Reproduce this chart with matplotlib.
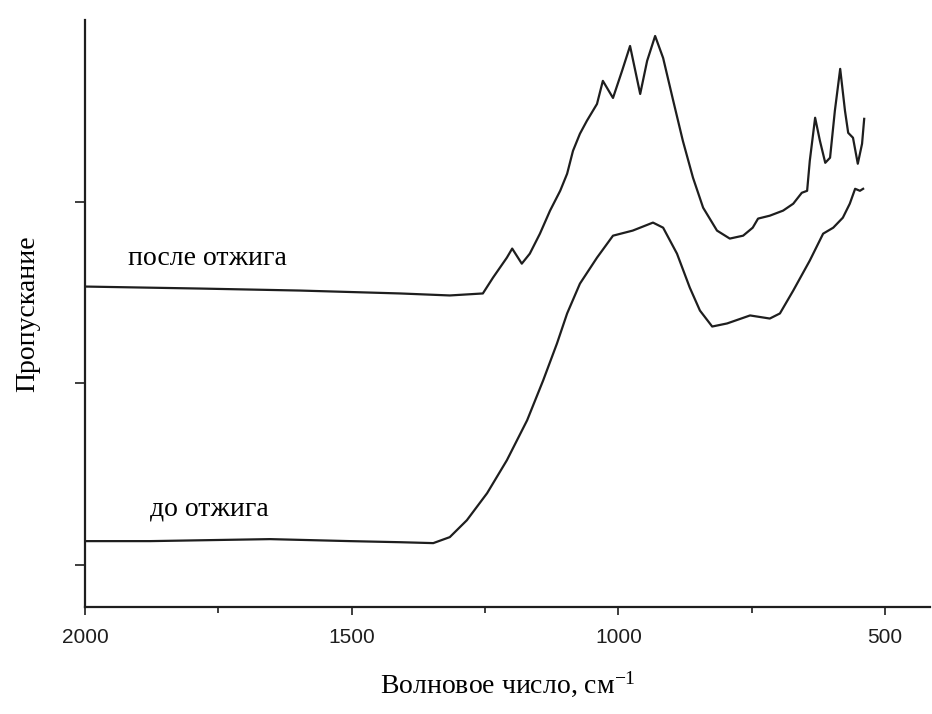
import numpy as np
import matplotlib.pyplot as plt

# ИК-спектры пропускания до и после отжига

# после отжига
wn_after = [2000, 1784, 1597, 1409, 1316, 1254, 1235, 1222, 1209, 1199, 1181, 1166,
            1147, 1128, 1109, 1096, 1085, 1072, 1059, 1040, 1029, 1010, 993, 978,
            959, 946, 931, 916, 897, 879, 860, 841, 815, 791, 766, 748, 738, 716,
            691, 672, 656, 646, 641, 631, 622, 612, 603, 594, 584, 575, 569, 560,
            551, 543, 539]
tr_after = [25.33, 25.22, 25.11, 24.95, 24.84, 24.95, 25.82, 26.37, 26.92, 27.42,
            26.59, 27.14, 28.24, 29.51, 30.60, 31.54, 32.80, 33.74, 34.45, 35.38,
            36.65, 35.71, 37.20, 38.57, 35.93, 37.75, 39.12, 37.91, 35.55, 33.35,
            31.32, 29.67, 28.41, 27.97, 28.13, 28.57, 29.07, 29.23, 29.51, 29.89,
            30.49, 30.60, 32.25, 34.62, 33.35, 32.14, 32.42, 35.00, 37.31, 35.00,
            33.79, 33.52, 32.09, 33.19, 34.56]

# до отжига
wn_before = [2000, 1878, 1653, 1503, 1409, 1347, 1316, 1284, 1246, 1209, 1171, 1141,
             1115, 1096, 1072, 1040, 1010, 973, 935, 916, 890, 866, 847, 824, 796,
             753, 716, 697, 672, 641, 616, 597, 579, 566, 556, 547, 541]
tr_before = [11.32, 11.32, 11.43, 11.32, 11.26, 11.21, 11.54, 12.47, 13.96, 15.77,
             17.97, 20.16, 22.20, 23.85, 25.49, 26.92, 28.13, 28.41, 28.85, 28.57,
             27.14, 25.27, 24.01, 23.13, 23.30, 23.74, 23.57, 23.85, 25.11, 26.76,
             28.24, 28.57, 29.12, 29.89, 30.71, 30.60, 30.71]

xticks = [2000, 1500, 1000, 500]
yticks = [10, 20, 30]

serif = 'Liberation Serif'
plt.rcParams['mathtext.fontset'] = 'custom'
plt.rcParams['mathtext.rm'] = serif
plt.rcParams['mathtext.it'] = serif
plt.rcParams['mathtext.default'] = 'rm'

fig = plt.figure(figsize=(9.32, 7.14), dpi=100)
ax = fig.add_axes([0.0912, 0.15, 0.907, 0.822])

ax.plot(wn_after, tr_after, color='#1e1e1e', lw=1.6, solid_joinstyle='round')
ax.plot(wn_before, tr_before, color='#1e1e1e', lw=1.6, solid_joinstyle='round')

ax.set_xlim(2000, 415)
ax.set_ylim(7.7, 40)

for s in ['top', 'right']:
    ax.spines[s].set_visible(False)
for s in ['left', 'bottom']:
    ax.spines[s].set_linewidth(1.6)
    ax.spines[s].set_color('#1e1e1e')

ax.set_xticks(xticks)
ax.set_xticks([1750, 1250, 750], minor=True)
ax.set_xticklabels([str(t) for t in xticks], fontfamily='Liberation Sans', fontsize=15)
ax.set_yticks(yticks)
ax.set_yticklabels([])
ax.tick_params(axis='both', which='both', direction='out', width=1.2, colors='#1e1e1e')
ax.tick_params(axis='x', which='major', length=6, pad=9)
ax.tick_params(axis='x', which='minor', length=4)
ax.tick_params(axis='y', length=7)

ax.set_xlabel('Волновое число, см$^{\\mathregular{-1}}$', fontfamily=serif, fontsize=20, labelpad=16)
ax.set_ylabel('Пропускание', fontfamily=serif, fontsize=20, labelpad=22)

ax.text(1919, 26.5, 'после отжига', fontfamily=serif, fontsize=20, va='baseline')
ax.text(1878, 12.75, 'до отжига', fontfamily=serif, fontsize=20, va='baseline')

fig.savefig('out.png', dpi=100)
